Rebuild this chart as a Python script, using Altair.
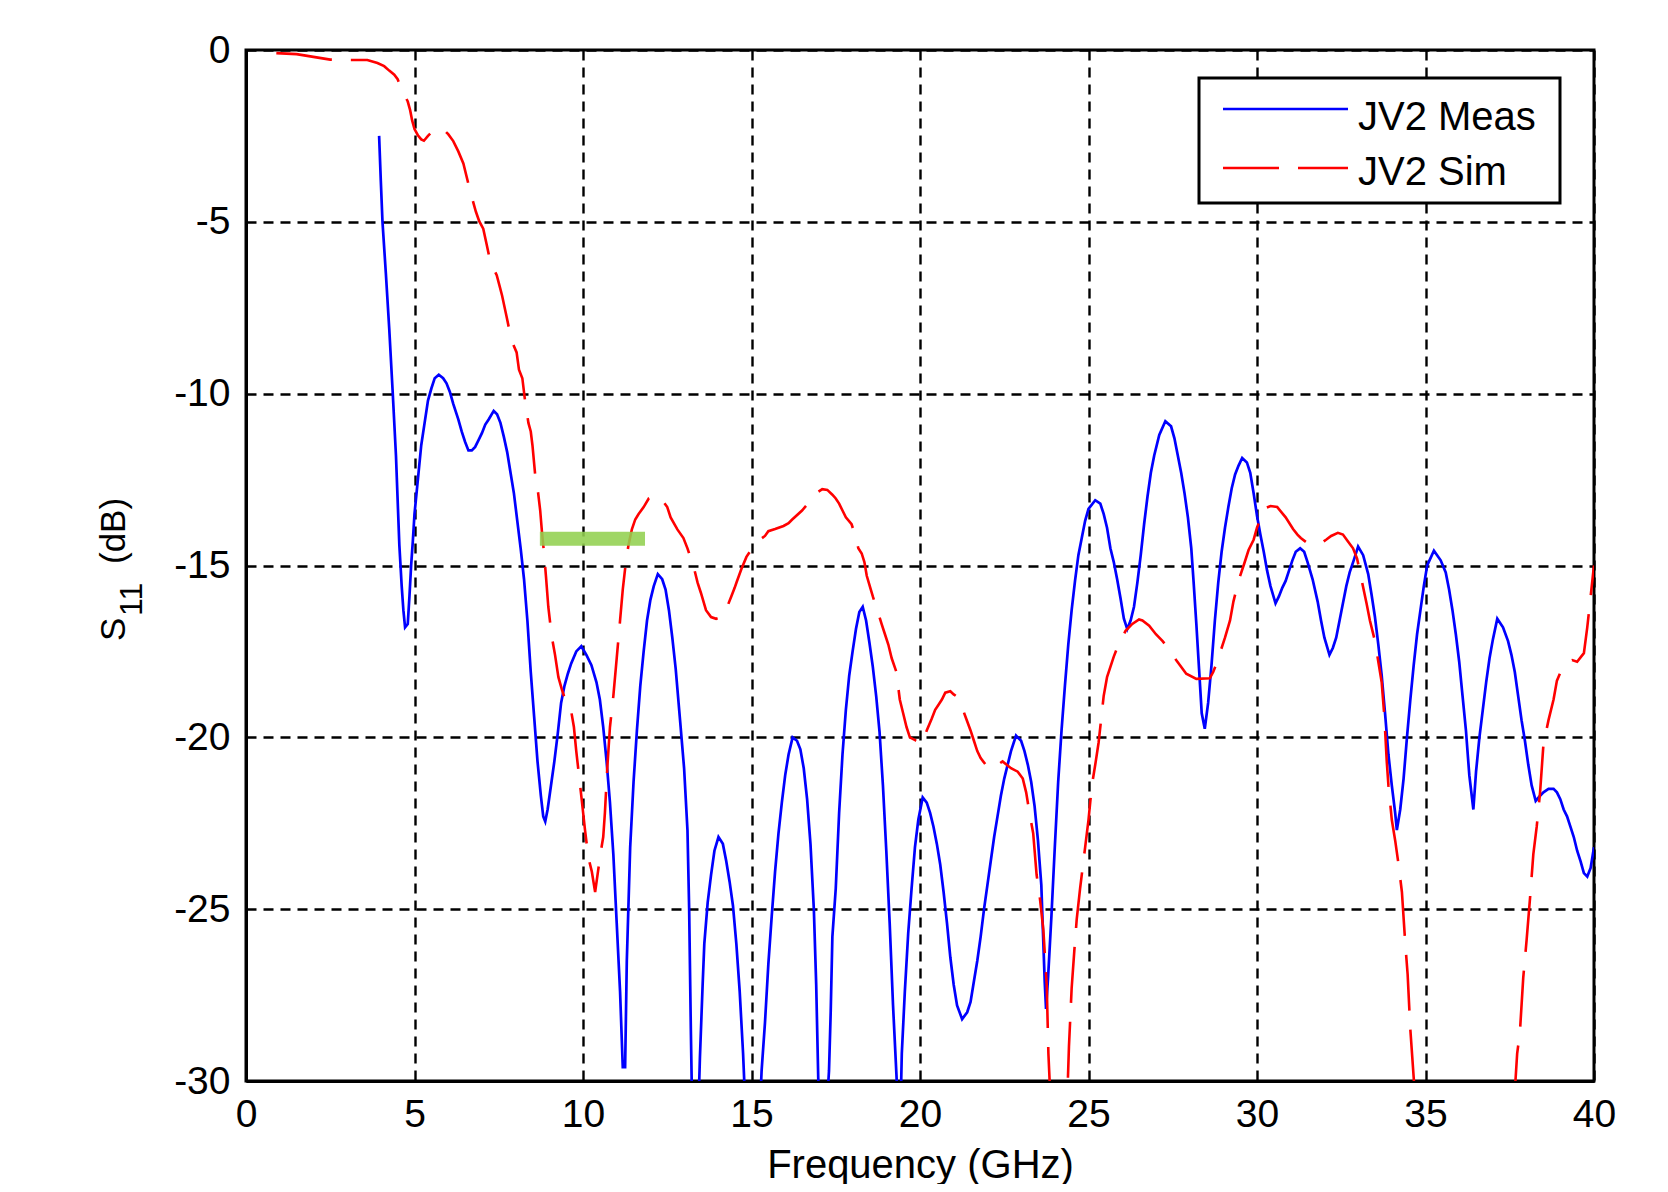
import altair as alt
import pandas as pd

# ---- data ----
meas_f = [3.95,4.0,4.05,4.15,4.25,4.35,4.45,4.55,4.62,4.67,4.72,4.8,4.85,4.9,4.95,5.0,5.1,5.2,5.3,5.4,5.5,5.6,5.72,5.85,5.95,6.05,6.15,6.3,6.4,6.5,6.6,6.7,6.8,6.9,7.0,7.1,7.2,7.35,7.45,7.55,7.65,7.75,7.85,7.95,8.05,8.15,8.25,8.35,8.45,8.55,8.65,8.75,8.82,8.88,8.95,9.05,9.15,9.25,9.35,9.45,9.55,9.65,9.8,9.95,10.1,10.25,10.4,10.5,10.6,10.7,10.8,10.9,11.0,11.1,11.18,11.25,11.3,11.4,11.5,11.6,11.7,11.8,11.9,12.0,12.1,12.22,12.35,12.45,12.55,12.65,12.75,12.88,13.0,13.1,13.15,13.2,13.25,13.33,13.42,13.47,13.55,13.6,13.7,13.8,13.9,14.02,14.15,14.25,14.35,14.45,14.55,14.65,14.75,14.85,15.05,15.22,15.3,15.4,15.5,15.6,15.7,15.8,15.9,16.0,16.1,16.22,16.35,16.45,16.55,16.65,16.75,16.85,16.92,16.98,17.1,17.22,17.3,17.35,17.4,17.5,17.6,17.7,17.8,17.9,18.0,18.1,18.2,18.3,18.4,18.5,18.6,18.7,18.8,18.9,19.0,19.1,19.2,19.3,19.38,19.42,19.46,19.55,19.65,19.75,19.85,19.95,20.08,20.2,20.3,20.4,20.5,20.6,20.7,20.8,20.9,21.0,21.1,21.25,21.4,21.5,21.6,21.7,21.8,21.9,22.0,22.1,22.2,22.3,22.4,22.5,22.6,22.7,22.85,23.0,23.1,23.2,23.3,23.4,23.5,23.6,23.65,23.7,23.74,23.8,23.9,24.0,24.1,24.2,24.3,24.4,24.5,24.6,24.7,24.8,24.9,25.0,25.2,25.35,25.45,25.55,25.65,25.75,25.85,25.95,26.05,26.15,26.25,26.35,26.45,26.55,26.65,26.75,26.85,26.95,27.1,27.28,27.45,27.55,27.65,27.75,27.85,27.95,28.05,28.12,28.2,28.28,28.36,28.45,28.55,28.65,28.75,28.85,28.95,29.05,29.15,29.25,29.35,29.45,29.56,29.7,29.8,29.9,30.0,30.1,30.2,30.3,30.4,30.55,30.65,30.75,30.85,30.95,31.05,31.15,31.28,31.4,31.5,31.65,31.8,31.9,32.0,32.15,32.25,32.35,32.45,32.55,32.65,32.75,32.87,33.0,33.15,33.3,33.4,33.5,33.6,33.7,33.8,33.9,34.0,34.1,34.15,34.25,34.35,34.45,34.55,34.65,34.75,34.85,34.95,35.05,35.25,35.45,35.6,35.7,35.8,35.9,36.0,36.1,36.2,36.3,36.42,36.5,36.6,36.7,36.8,36.9,37.0,37.13,37.3,37.45,37.55,37.65,37.75,37.85,37.95,38.05,38.15,38.27,38.4,38.5,38.65,38.8,38.9,39.0,39.1,39.2,39.3,39.4,39.5,39.6,39.7,39.8,39.9,40.0]
meas_db = [-2.5,-3.8,-5.0,-6.5,-8.1,-9.9,-11.8,-14.4,-15.6,-16.3,-16.8,-16.7,-15.9,-15.0,-14.3,-13.5,-12.5,-11.5,-10.85,-10.2,-9.85,-9.55,-9.45,-9.55,-9.7,-9.95,-10.3,-10.75,-11.1,-11.4,-11.65,-11.65,-11.55,-11.35,-11.15,-10.9,-10.75,-10.5,-10.6,-10.85,-11.25,-11.7,-12.3,-12.9,-13.7,-14.5,-15.4,-16.6,-18.1,-19.4,-20.7,-21.7,-22.3,-22.45,-22.1,-21.4,-20.7,-19.9,-19.0,-18.5,-18.15,-17.85,-17.5,-17.35,-17.6,-17.9,-18.4,-18.9,-19.7,-20.7,-21.9,-23.4,-25.4,-27.4,-29.6,-29.6,-26.5,-23.2,-21.3,-19.8,-18.5,-17.5,-16.6,-16.0,-15.6,-15.25,-15.4,-15.7,-16.3,-17.1,-18.0,-19.5,-20.9,-22.7,-25.0,-28.5,-31.5,-34.0,-31.0,-29.3,-27.2,-26.0,-24.8,-24.0,-23.3,-22.9,-23.1,-23.6,-24.2,-24.9,-26.0,-27.4,-29.2,-31.5,-35.0,-31.5,-29.7,-28.3,-26.6,-25.2,-23.9,-22.8,-21.9,-21.1,-20.5,-20.0,-20.1,-20.35,-20.9,-21.8,-23.1,-25.0,-27.2,-29.9,-33.0,-31.0,-29.7,-28.0,-25.8,-24.4,-22.2,-20.5,-19.2,-18.2,-17.5,-16.85,-16.35,-16.2,-16.6,-17.25,-17.95,-18.8,-19.85,-21.4,-23.3,-25.4,-27.8,-29.8,-31.5,-31.0,-29.2,-27.4,-25.7,-24.4,-23.2,-22.4,-21.75,-21.9,-22.2,-22.6,-23.1,-23.7,-24.5,-25.4,-26.4,-27.2,-27.8,-28.2,-28.0,-27.7,-27.1,-26.5,-25.8,-25.0,-24.3,-23.6,-22.9,-22.3,-21.7,-21.2,-20.8,-20.4,-19.95,-20.1,-20.4,-20.8,-21.3,-22.0,-23.0,-24.3,-25.7,-27.1,-27.9,-27.0,-25.2,-23.2,-21.3,-19.8,-18.5,-17.3,-16.3,-15.45,-14.7,-14.2,-13.7,-13.35,-13.1,-13.2,-13.5,-13.9,-14.5,-14.9,-15.4,-15.95,-16.55,-16.85,-16.6,-16.2,-15.5,-14.7,-13.8,-13.0,-12.3,-11.8,-11.2,-10.8,-10.95,-11.3,-11.8,-12.3,-12.9,-13.6,-14.5,-15.5,-16.7,-18.0,-19.3,-19.75,-19.0,-17.9,-16.6,-15.5,-14.6,-13.9,-13.3,-12.75,-12.35,-12.1,-11.87,-12.0,-12.3,-12.9,-13.55,-14.1,-14.6,-15.15,-15.6,-16.1,-15.9,-15.65,-15.45,-15.15,-14.85,-14.6,-14.5,-14.6,-14.9,-15.4,-16.05,-16.6,-17.1,-17.6,-17.4,-17.1,-16.6,-16.1,-15.6,-15.2,-14.85,-14.45,-14.7,-15.25,-15.85,-16.5,-17.3,-18.2,-19.3,-20.5,-21.4,-22.2,-22.7,-22.1,-21.2,-20.0,-18.9,-17.9,-17.0,-16.3,-15.6,-15.0,-14.57,-14.85,-15.2,-15.7,-16.3,-17.0,-17.8,-18.8,-19.8,-21.1,-22.1,-21.0,-20.0,-19.2,-18.4,-17.7,-17.15,-16.55,-16.8,-17.2,-17.6,-18.1,-18.8,-19.5,-20.1,-20.8,-21.4,-21.85,-21.7,-21.6,-21.5,-21.5,-21.6,-21.8,-22.1,-22.3,-22.6,-22.9,-23.3,-23.6,-23.95,-24.05,-23.8,-23.2]

sim_f = [0.9,1.5,2.0,2.5,3.0,3.6,3.9,4.1,4.25,4.4,4.5,4.58,4.7,4.8,4.87,4.93,5.0,5.1,5.2,5.28,5.4,5.55,5.7,5.85,6.0,6.15,6.3,6.45,6.6,6.72,6.82,6.92,7.04,7.14,7.24,7.34,7.44,7.52,7.6,7.73,7.88,8.03,8.1,8.2,8.28,8.38,8.45,8.5,8.58,8.67,8.73,8.78,8.84,8.9,8.97,9.07,9.17,9.27,9.37,9.47,9.56,9.66,9.73,9.8,9.88,9.96,10.06,10.16,10.26,10.36,10.46,10.55,10.6,10.65,10.72,10.8,10.9,11.0,11.1,11.18,11.26,11.35,11.45,11.55,11.65,11.8,11.95,12.1,12.25,12.35,12.5,12.6,12.8,12.98,13.1,13.2,13.3,13.4,13.5,13.65,13.8,13.95,14.1,14.2,14.3,14.4,14.5,14.56,14.7,14.85,14.95,15.1,15.2,15.4,15.5,15.7,15.95,16.1,16.2,16.5,16.8,16.9,17.1,17.25,17.4,17.5,17.6,17.7,17.8,17.97,18.07,18.17,18.27,18.35,18.42,18.51,18.6,18.75,18.86,18.96,19.06,19.16,19.3,19.35,19.4,19.5,19.6,19.7,19.87,20.07,20.2,20.35,20.45,20.55,20.65,20.75,20.9,21.0,21.1,21.2,21.35,21.5,21.6,21.7,21.8,21.95,22.1,22.3,22.45,22.7,22.9,23.05,23.15,23.25,23.36,23.46,23.56,23.66,23.76,23.81,23.87,24.1,24.35,24.38,24.42,24.5,24.58,24.65,24.75,24.9,25.0,25.1,25.2,25.3,25.45,25.55,25.65,25.75,25.85,26.0,26.1,26.3,26.5,26.6,26.8,27.0,27.2,27.4,27.6,27.9,28.2,28.6,28.7,28.8,28.9,29.05,29.2,29.3,29.4,29.5,29.62,29.75,29.9,30.0,30.1,30.2,30.4,30.6,30.85,31.07,31.2,31.3,31.5,31.7,31.9,32.05,32.2,32.4,32.55,32.7,32.85,32.97,33.1,33.25,33.35,33.5,33.6,33.7,33.78,33.85,33.9,34.0,34.1,34.2,34.3,34.4,34.47,34.55,34.65,34.75,35.0,35.5,36.5,37.2,37.5,37.65,37.72,37.8,37.9,38.0,38.1,38.2,38.3,38.4,38.5,38.65,38.8,38.9,39.05,39.2,39.35,39.5,39.7,39.8,39.9,40.0]
sim_db = [-0.09,-0.12,-0.2,-0.28,-0.29,-0.29,-0.38,-0.47,-0.6,-0.72,-0.85,-1.05,-1.3,-1.5,-1.75,-2.05,-2.3,-2.48,-2.6,-2.64,-2.5,-2.35,-2.28,-2.3,-2.45,-2.65,-2.95,-3.3,-3.9,-4.35,-4.7,-4.98,-5.2,-5.65,-6.12,-6.35,-6.55,-6.85,-7.15,-7.75,-8.45,-8.8,-9.3,-9.55,-10.2,-10.85,-11.1,-11.5,-12.35,-12.9,-13.4,-14.0,-14.6,-15.3,-16.2,-17.05,-17.6,-18.25,-18.6,-18.9,-19.0,-19.3,-19.7,-20.4,-21.1,-21.8,-22.7,-23.5,-23.9,-24.5,-23.8,-23.2,-22.9,-22.2,-20.9,-19.7,-18.8,-17.7,-16.6,-15.7,-15.0,-14.4,-13.95,-13.66,-13.5,-13.3,-13.05,-12.97,-13.0,-13.1,-13.3,-13.6,-13.95,-14.2,-14.5,-14.8,-15.1,-15.5,-15.8,-16.3,-16.5,-16.55,-16.5,-16.4,-16.15,-15.9,-15.65,-15.48,-15.1,-14.75,-14.6,-14.41,-14.28,-14.14,-14.0,-13.94,-13.85,-13.77,-13.67,-13.4,-13.05,-12.91,-12.78,-12.8,-12.94,-13.05,-13.2,-13.4,-13.6,-13.8,-14.1,-14.5,-14.65,-14.9,-15.3,-15.6,-15.9,-16.35,-16.7,-17.0,-17.3,-17.7,-18.1,-18.5,-18.9,-19.3,-19.7,-20.0,-20.09,-20.18,-19.8,-19.45,-19.2,-19.05,-18.9,-18.7,-18.66,-18.75,-18.82,-19.0,-19.4,-19.8,-20.1,-20.4,-20.6,-20.8,-20.93,-20.8,-20.7,-20.9,-21.0,-21.2,-21.6,-22.2,-22.8,-24.0,-24.7,-25.6,-27.2,-29.2,-30.5,-36.0,-31.0,-30.2,-29.0,-27.3,-26.2,-25.3,-24.4,-23.2,-22.4,-21.4,-20.8,-20.15,-18.8,-18.25,-17.95,-17.65,-17.4,-17.1,-16.9,-16.7,-16.57,-16.6,-16.75,-17.0,-17.2,-17.45,-17.75,-18.15,-18.3,-18.28,-18.1,-17.85,-17.55,-17.1,-16.6,-16.05,-15.65,-15.3,-14.95,-14.55,-14.25,-13.9,-13.65,-13.35,-13.27,-13.3,-13.6,-13.94,-14.1,-14.2,-14.35,-14.38,-14.35,-14.25,-14.14,-14.05,-14.1,-14.3,-14.5,-14.8,-15.4,-16.1,-16.6,-17.2,-17.8,-18.4,-19.4,-20.7,-21.4,-22.4,-23.0,-23.7,-24.5,-26.0,-26.9,-28.5,-29.9,-31.5,-34.0,-37.0,-38.0,-35.0,-32.0,-30.3,-29.2,-28.6,-27.0,-25.9,-24.7,-23.4,-22.6,-21.6,-20.2,-19.5,-18.9,-18.35,-18.0,-17.8,-17.75,-17.8,-17.55,-16.8,-15.9,-15.0]

band_f0 = [8.72]
band_f1 = [11.84]
band_db = [-14.22]

series_names = ["JV2 Meas", "JV2 Sim"]
x_ticks = [0, 5, 10, 15, 20, 25, 30, 35, 40]
y_ticks = [0, -5, -10, -15, -20, -25, -30]
y_title_parts = ["S", "11", "(dB)"]

FONT = "Liberation Sans"
FS = 39

df_meas = pd.DataFrame({"f": meas_f, "s": meas_db})
df_sim = pd.DataFrame({"f": sim_f, "s": sim_db})
df_band = pd.DataFrame({"f0": band_f0, "f1": band_f1, "s": band_db})
one = pd.DataFrame({"k": [0]})

x_enc = alt.X("f:Q", scale=alt.Scale(domain=[0, 40], nice=False, zero=False),
              axis=alt.Axis(values=x_ticks, title="Frequency (GHz)",
                            labelExpr="'' + datum.value", labelPadding=14,
                            labelFlush=False, titlePadding=11, ticks=False))
y_enc = alt.Y("s:Q", scale=alt.Scale(domain=[-30, 0], nice=False, zero=False),
              axis=alt.Axis(values=y_ticks, title="",
                            labelExpr="'' + datum.value", labelPadding=16,
                            labelFlush=False, ticks=False))

meas = alt.Chart(df_meas).mark_line(color="#0000ff", strokeWidth=2.7, clip=True).encode(
    x=x_enc, y=y_enc)
sim = alt.Chart(df_sim).mark_line(color="#ff0000", strokeWidth=2.6, strokeDash=[56, 19],
                                  clip=True).encode(x=x_enc, y=y_enc)
band = alt.Chart(df_band).mark_rule(color="#92d050", strokeWidth=14, opacity=0.88,
                                    strokeCap="butt").encode(
    x="f0:Q", x2="f1:Q", y="s:Q")

# y-axis title with a real subscript (rotated text pieces)
yt_s = alt.Chart(one).mark_text(align="left", baseline="alphabetic", angle=270, font=FONT,
                                fontSize=35, color="black").encode(
    x=alt.value(-121), y=alt.value(591), text=alt.value(y_title_parts[0]))
yt_sub = alt.Chart(one).mark_text(align="left", baseline="alphabetic", angle=270, font=FONT,
                                  fontSize=32, color="black").encode(
    x=alt.value(-104), y=alt.value(566), text=alt.value(y_title_parts[1]))
yt_db = alt.Chart(one).mark_text(align="left", baseline="alphabetic", angle=270, font=FONT,
                                 fontSize=35, color="black").encode(
    x=alt.value(-121), y=alt.value(514), text=alt.value(y_title_parts[2]))

# legend (manual, MATLAB style box)
leg_box = alt.Chart(one).mark_rect(fill="white", stroke="black", strokeWidth=3).encode(
    x=alt.value(953), x2=alt.value(1314), y=alt.value(28), y2=alt.value(153))
leg_meas_line = alt.Chart(one).mark_rule(color="#0000ff", strokeWidth=2.7).encode(
    x=alt.value(977), x2=alt.value(1102), y=alt.value(59))
leg_sim_line = alt.Chart(one).mark_rule(color="#ff0000", strokeWidth=2.7,
                                        strokeDash=[56, 19]).encode(
    x=alt.value(977), x2=alt.value(1102), y=alt.value(118))
leg_meas_txt = alt.Chart(one).mark_text(align="left", baseline="alphabetic", font=FONT,
                                        fontSize=40, color="black").encode(
    x=alt.value(1112), y=alt.value(80), text=alt.value(series_names[0]))
leg_sim_txt = alt.Chart(one).mark_text(align="left", baseline="alphabetic", font=FONT,
                                       fontSize=40, color="black").encode(
    x=alt.value(1112), y=alt.value(135), text=alt.value(series_names[1]))

chart = alt.layer(meas, sim, band, leg_box, leg_meas_line, leg_sim_line,
                  leg_meas_txt, leg_sim_txt, yt_s, yt_sub, yt_db).properties(
    width=1348, height=1031,
    autosize=alt.AutoSizeParams(type="none"),
    padding={"left": 238, "top": 42, "right": 66, "bottom": 103},
    background="white",
).configure_view(
    stroke="black", strokeWidth=3
).configure_axis(
    domainColor="black", domainWidth=3,
    grid=True, gridColor="black", gridOpacity=1, gridWidth=2.4, gridDash=[10, 7],
    labelFont=FONT, labelFontSize=FS, labelColor="black",
    titleFont=FONT, titleFontSize=40, titleFontWeight="normal", titleColor="black",
)

chart.save("out.html", embed_options={"renderer": "svg", "actions": False})
